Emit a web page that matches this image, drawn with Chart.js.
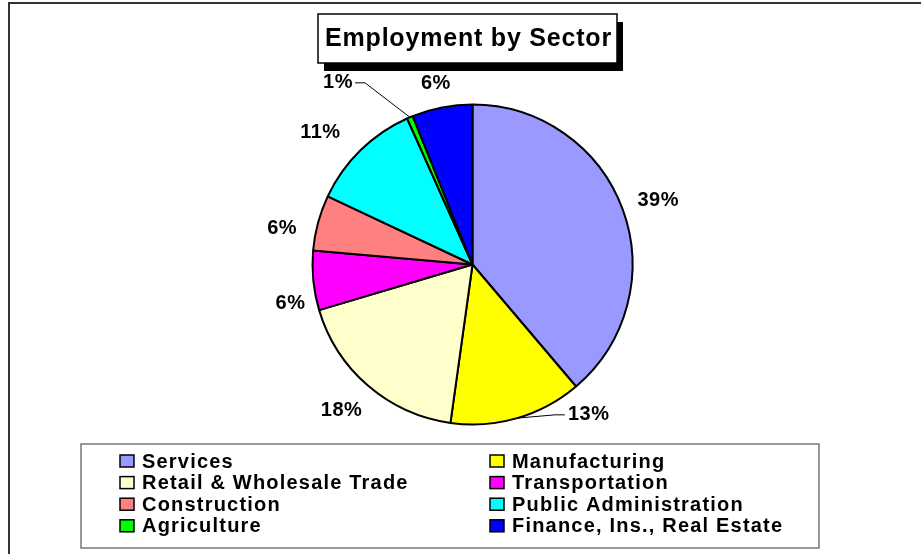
<!DOCTYPE html>
<html>
<head>
<meta charset="utf-8">
<script src="https://cdn.jsdelivr.net/npm/chart.js@4.4.1/dist/chart.umd.min.js"></script>
<style>
  html,body{margin:0;padding:0;background:#fff;}
  canvas{display:block;}
</style>
</head>
<body>
<canvas id="chartCanvas" width="921" height="554"></canvas>
<script>
// data, clockwise from 12 o'clock
const sectors = ['Services','Manufacturing','Retail & Wholesale Trade','Transportation','Construction','Public Administration','Agriculture','Finance, Ins., Real Estate'];
const shares = [38.8, 13.4, 18.2, 6.0, 5.6, 11.3, 0.6, 6.1];
const sliceColors = ['#9999FF','#FFFF00','#FFFFCC','#FF00FF','#FF8080','#00FFFF','#00FF00','#0000FF'];
const chartTitle = 'Employment by Sector';

const FONT = '"Liberation Sans", Arial, sans-serif';
// labels that Excel pulled out with a leader line: index -> angle (deg from top) and distance
const leaders = { 1: {angle: 142.3, dist: 190}, 6: {angle: 323.5, dist: 226} };
const labelGap = 17;
// small shifts Excel applied to keep the left-hand labels apart
const labelNudge = { 2: [-2, 6], 3: [9, 20], 4: [-5, 12], 5: [-14, 0] };

// frame + title box
const decorPlugin = {
  id: 'decor',
  beforeDraw(chart){
    const ctx = chart.ctx;
    ctx.save();
    ctx.fillStyle = '#fff';
    ctx.fillRect(0,0,chart.width,chart.height);
    ctx.strokeStyle = '#333';
    ctx.lineWidth = 2;
    ctx.beginPath();
    ctx.moveTo(9, chart.height+5); ctx.lineTo(9, 3); ctx.lineTo(chart.width+5, 3);
    ctx.stroke();
    ctx.restore();
  },
  afterDraw(chart){
    const ctx = chart.ctx;
    ctx.save();
    // title with shadow
    const bx = 318, by = 14, bw = 299, bh = 49;
    ctx.fillStyle = '#000';
    ctx.fillRect(bx+6, by+8, bw, bh);
    ctx.fillStyle = '#fff';
    ctx.fillRect(bx, by, bw, bh);
    ctx.strokeStyle = '#000'; ctx.lineWidth = 1.5;
    ctx.strokeRect(bx, by, bw, bh);
    ctx.fillStyle = '#000';
    ctx.font = 'bold 25px ' + FONT;
    ctx.letterSpacing = '0.8px';
    ctx.textAlign = 'center'; ctx.textBaseline = 'middle';
    ctx.fillText(chartTitle, bx + bw/2 + 1, by + bh/2 + 1);

    // legend, two columns row by row
    ctx.letterSpacing = '1.2px';
    ctx.strokeStyle = '#555'; ctx.lineWidth = 1.2;
    ctx.strokeRect(81, 444, 738, 104);
    ctx.font = 'bold 20px ' + FONT;
    ctx.textAlign = 'left';
    sectors.forEach((name, i) => {
      const col = i % 2, row = Math.floor(i / 2);
      const sx = col ? 490 : 120;
      const cy = 461 + row * 21.6;
      ctx.fillStyle = sliceColors[i];
      ctx.fillRect(sx, cy - 6, 14, 12);
      ctx.strokeStyle = '#000'; ctx.lineWidth = 1.5;
      ctx.strokeRect(sx, cy - 6, 14, 12);
      ctx.fillStyle = '#000';
      ctx.fillText(name, sx + 22, cy + 1);
    });
    ctx.restore();
  }
};

// percentage labels outside the pie
const labelPlugin = {
  id: 'sliceLabels',
  afterDatasetsDraw(chart){
    const ctx = chart.ctx;
    const meta = chart.getDatasetMeta(0);
    const total = shares.reduce((a,b)=>a+b,0);
    ctx.save();
    ctx.font = 'bold 20px ' + FONT;
    ctx.letterSpacing = '0.5px';
    ctx.fillStyle = '#000';
    ctx.strokeStyle = '#000';
    ctx.lineWidth = 1;
    ctx.textAlign = 'center'; ctx.textBaseline = 'middle';
    meta.data.forEach((arc, i) => {
      const p = arc.getProps(['x','y','startAngle','endAngle','outerRadius'], true);
      const mid = (p.startAngle + p.endAngle) / 2;
      const txt = Math.round(shares[i] / total * 100) + '%';
      const w = ctx.measureText(txt).width, h = 15;
      const lead = leaders[i];
      if(lead){
        const a = lead.angle * Math.PI / 180 - Math.PI / 2;
        const lx = p.x + Math.cos(a) * lead.dist, ly = p.y + Math.sin(a) * lead.dist;
        const right = lx > p.x;
        const endX = right ? lx - w/2 - 3 : lx + w/2 + 2;
        const elbowX = right ? endX - 10 : endX + 10;
        ctx.beginPath();
        ctx.moveTo(p.x + Math.cos(mid) * p.outerRadius, p.y + Math.sin(mid) * p.outerRadius);
        ctx.lineTo(elbowX, ly);
        ctx.lineTo(endX, ly);
        ctx.stroke();
        ctx.fillText(txt, lx, ly);
      } else {
        const c = Math.cos(mid), s = Math.sin(mid);
        const r = p.outerRadius + labelGap;
        const [dx, dy] = labelNudge[i] || [0, 0];
        ctx.fillText(txt, p.x + c * r + c * w / 2 + dx, p.y + s * r + s * h / 2 + dy);
      }
    });
    ctx.restore();
  }
};

new Chart(document.getElementById('chartCanvas'), {
  type: 'pie',
  data: {
    labels: sectors,
    datasets: [{
      data: shares,
      backgroundColor: sliceColors,
      borderColor: '#000',
      borderWidth: 2,
      radius: 160
    }]
  },
  options: {
    responsive: false,
    animation: false,
    devicePixelRatio: 1,
    layout: { padding: { left: 312, right: 288, top: 104, bottom: 129 } },
    plugins: { legend: { display: false }, tooltip: { enabled: false }, title: { display: false } }
  },
  plugins: [decorPlugin, labelPlugin]
});
</script>
</body>
</html>
